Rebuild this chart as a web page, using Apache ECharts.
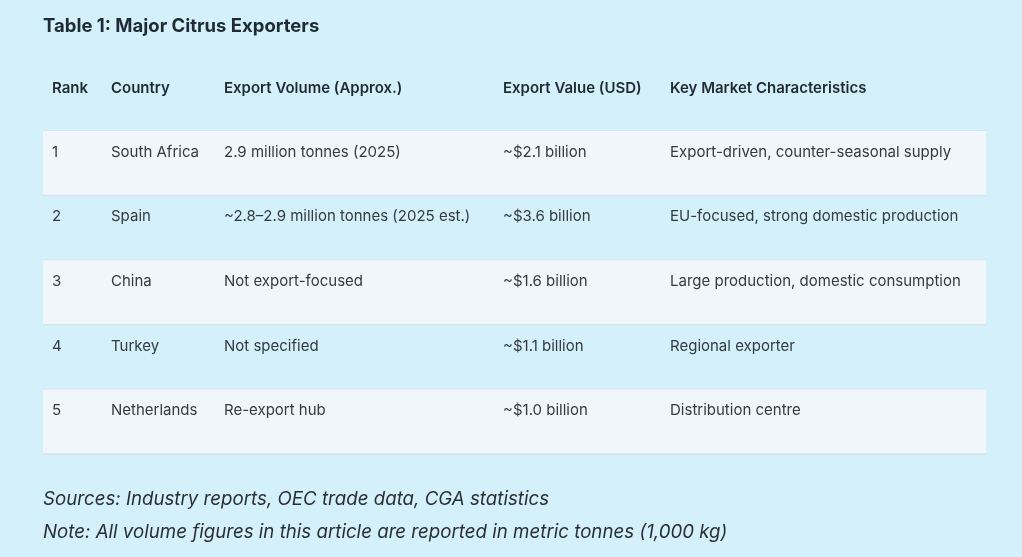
<!DOCTYPE html>
<html><head><meta charset="utf-8">
<script src="https://cdn.jsdelivr.net/npm/echarts@6/dist/echarts.min.js"></script>
<style>html,body{margin:0;padding:0;background:#d3f0fb;} #c{width:1022px;height:557px;}</style>
</head><body><div id="c"></div>
<script>
const titleText = 'Table 1: Major Citrus Exporters';
const headers = ['Rank', 'Country', 'Export Volume (Approx.)', 'Export Value (USD)', 'Key Market Characteristics'];
const ranks = ['1', '2', '3', '4', '5'];
const countries = ['South Africa', 'Spain', 'China', 'Turkey', 'Netherlands'];
const volumes = ['2.9 million tonnes (2025)', '~2.8–2.9 million tonnes (2025 est.)', 'Not export-focused', 'Not specified', 'Re-export hub'];
const values = ['~$2.1 billion', '~$3.6 billion', '~$1.6 billion', '~$1.1 billion', '~$1.0 billion'];
const characteristics = ['Export-driven, counter-seasonal supply', 'EU-focused, strong domestic production', 'Large production, domestic consumption', 'Regional exporter', 'Distribution centre'];
const notes = ['Sources: Industry reports, OEC trade data, CGA statistics', 'Note: All volume figures in this article are reported in metric tonnes (1,000 kg)'];

const rows = [headers].concat(ranks.map((r, i) => [r, countries[i], volumes[i], values[i], characteristics[i]]));
const rowLabels = rows.map((r, i) => 'row' + i);
const colOffsets = [9, 68, 181, 460, 627];
const FONT = 'Inter, "Noto Sans", sans-serif';

const chart = echarts.init(document.getElementById('c'));
chart.setOption({
  backgroundColor: '#d3f0fb',
  animation: false,
  title: {
    text: titleText, left: 43, top: 17, padding: 0,
    textStyle: { fontFamily: FONT, fontSize: 18.5, fontWeight: 700, color: '#1f2b33' }
  },
  grid: { left: 43, right: 36, top: 66.4, bottom: 103 },
  xAxis: { type: 'value', min: 0, max: 943, show: false },
  yAxis: { type: 'category', data: rowLabels, inverse: true, show: false },
  graphic: notes.map((t, i) => ({
    type: 'text', left: 43, top: 490 + i * 33,
    style: { text: t, font: 'italic 18.7px ' + FONT, fill: '#2b2f33' }
  })),
  series: [{
    type: 'custom',
    data: rows.map((r, i) => [0, i]),
    renderItem: function (params, api) {
      const i = api.value(1);
      const c = api.coord([0, i]);
      const h = api.size([0, 1])[1];
      const w = api.size([943, 0])[0];
      const top = c[1] - h / 2;
      const left = c[0];
      const children = [];
      if (i % 2 === 1) {
        children.push({ type: 'rect', shape: { x: left, y: top, width: w, height: h }, style: { fill: '#f1f6fa' } });
      }
      children.push({ type: 'line', shape: { x1: left, y1: top + h, x2: left + w, y2: top + h }, style: { stroke: '#d9e3ea', lineWidth: 1.5 } });
      rows[i].forEach((t, k) => {
        children.push({
          type: 'text',
          style: {
            text: t, x: api.coord([colOffsets[k], i])[0], y: top + (i === 0 ? 22 : 21.3),
            verticalAlign: 'middle', align: 'left',
            font: (i === 0 ? '600 ' : '400 ') + '15px ' + FONT,
            fill: i === 0 ? '#1f2b33' : '#333a40'
          }
        });
      });
      return { type: 'group', children: children };
    }
  }]
});
</script></body></html>
